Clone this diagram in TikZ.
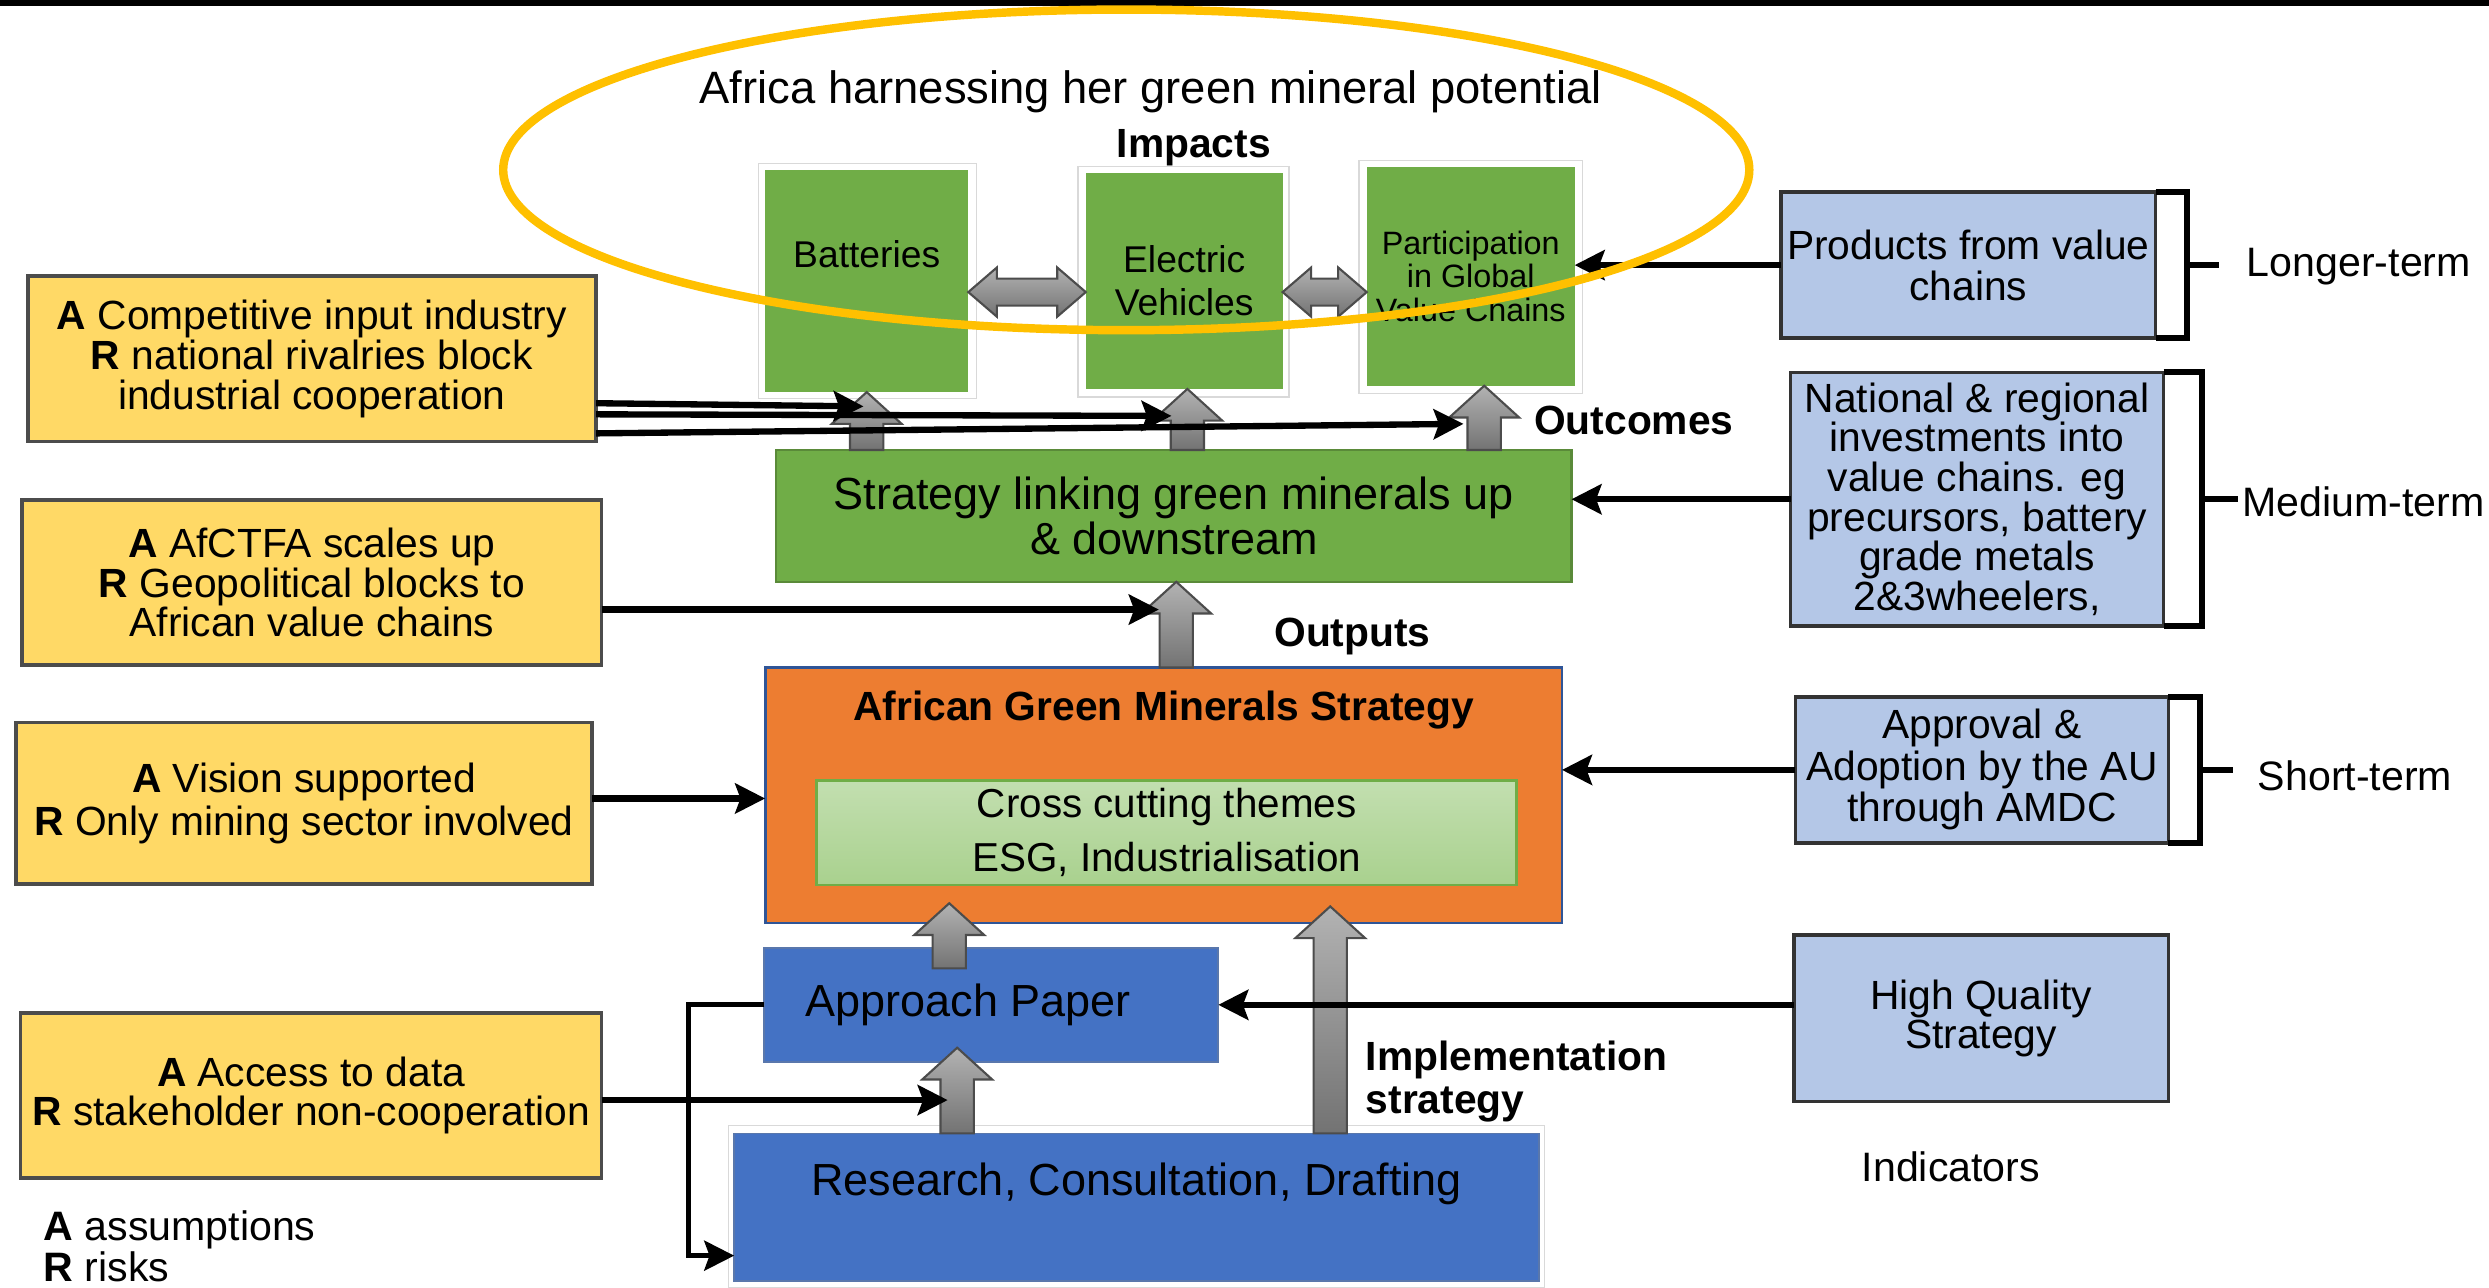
\documentclass[tikz,border=0pt]{standalone}
\usepackage{fontspec}
\setmainfont{Liberation Sans}
\usepackage{tikz}
\usetikzlibrary{arrows.meta}
\usetikzlibrary{calc}

\definecolor{impactgreen}{HTML}{70AD47}
\definecolor{riskyellow}{HTML}{FFD966}
\definecolor{indblue}{HTML}{B4C7E7}
\definecolor{agmsorange}{HTML}{ED7D31}
\definecolor{agmsedge}{HTML}{2F5597}
\definecolor{themegreen}{HTML}{A9D18E}
\definecolor{actblue}{HTML}{4472C4}
\definecolor{ringgold}{HTML}{FFC000}

\newcommand{\px}{0.15874mm}
\newcommand{\blockup}[2]{%
  \path[block_style] ($(#1)+(-10.5,0)$) -- ($(#2)+(-10.5,20)$) -- ($(#2)+(-22,20)$) -- (#2)
    -- ($(#2)+(22,20)$) -- ($(#2)+(10.5,20)$) -- ($(#1)+(10.5,0)$) -- cycle;}
\newcommand{\blocklr}[2]{%
  \path[block_style] (#1) -- ($(#1)+(18,-15.5)$) -- ($(#1)+(18,-8.5)$) -- ($(#2)+(-18,-8.5)$)
    -- ($(#2)+(-18,-15.5)$) -- (#2) -- ($(#2)+(-18,15.5)$) -- ($(#2)+(-18,8.5)$)
    -- ($(#1)+(18,8.5)$) -- ($(#1)+(18,15.5)$) -- cycle;}

\begin{document}
\begin{tikzpicture}[x=0.15874mm, y=-0.15874mm,
        box_size/.style 2 args={minimum width=#1*\px, minimum height=#2*\px},
        frame_style/.style={draw=black!15, fill=white, line width=0.4pt, inner sep=0pt},
        impact_style/.style={fill=impactgreen, inner sep=0pt, outer sep=0pt, align=center, font=\fontsize{10.6}{12.2}\selectfont},
        risk_style/.style={draw=black!70, fill=riskyellow, line width=1pt, align=center, inner sep=0pt, outer sep=0pt, font=\fontsize{11.6}{11.3}\selectfont},
        indicator_style/.style={draw=black!80, fill=indblue, line width=1pt, align=center, inner sep=0pt, outer sep=0pt, font=\fontsize{11.6}{11.3}\selectfont},
        activity_style/.style={fill=actblue, draw=agmsedge!80, line width=0.5pt, inner sep=0pt, outer sep=0pt, font=\fontsize{12.8}{13}\selectfont},
        edge_style/.style={draw=black, line width=1.8pt, -{Stealth[length=8.5pt,width=8.5pt,inset=1.5pt]}},
        bracket_style/.style={draw=black, line width=1.7pt},
        block_style/.style={draw=black!70, line width=0.6pt, top color=black!30, bottom color=black!55},
        tag_style/.style={font=\fontsize{11.6}{12.2}\selectfont\bfseries, inner sep=0pt},
        term_style/.style={font=\fontsize{11.7}{12}\selectfont, inner sep=0pt, anchor=west}]

        \fill[white] (0,0) rectangle (1568,811);
        \useasboundingbox (0,0) rectangle (1568,811);
        \fill[black] (0,0) rectangle (1568,3.5);

        \node [frame_style, box_size={137}{148}] (fr1) at (546.5,177) {};
        \node [frame_style, box_size={133}{145}] (fr2) at (745.5,177.5) {};
        \node [frame_style, box_size={141}{147}] (fr3) at (926.5,174.5) {};
        \node [frame_style, box_size={514}{102}] (fr4) at (716,760) {};

        \node [impact_style, box_size={128}{140}] (imp1) at (546,177) {\raisebox{5.4mm}{Batteries}};
        \node [impact_style, box_size={124}{136}] (imp2) at (746,177) {Electric\\Vehicles};
        \node [impact_style, box_size={131}{138}, font=\fontsize{9.2}{9.5}\selectfont] (imp3) at (926.5,174) {Participation\\in Global\\Value Chains};

        \node [impact_style, draw=impactgreen!80!black, line width=0.6pt, box_size={501}{83}, font=\fontsize{12.8}{12.6}\selectfont] (strat) at (739.5,325) {Strategy linking green minerals up\\\& downstream};

        \node [fill=agmsorange, draw=agmsedge, line width=0.8pt, box_size={502}{161}, inner sep=0pt, outer sep=0pt] (agms) at (733,501) {};
        \node [font=\fontsize{11.6}{12}\selectfont\bfseries] (agmsT) at (733,447) {African Green Minerals Strategy};
        \node [draw=impactgreen, line width=0.8pt, top color=themegreen!70!white, bottom color=themegreen, box_size={441}{66}, align=center, inner sep=0pt, font=\fontsize{11.5}{15.3}\selectfont] (theme) at (735,524.5) {Cross cutting themes\\ESG, Industrialisation};

        \node [activity_style, box_size={286}{72}] (ap) at (624.5,633) {Approach Paper\hspace*{4.6mm}};
        \node [activity_style, box_size={507}{93}] (rcd) at (716,760.5) {\raisebox{5.6mm}{Research, Consultation, Drafting}};

        \node [risk_style, box_size={358}{104}] (ra1) at (196.5,226) {\textbf{A} Competitive input industry\\\textbf{R} national rivalries block\\industrial cooperation};
        \node [risk_style, box_size={365}{104}] (ra2) at (196.5,367) {\textbf{A} AfCTFA scales up\\\textbf{R} Geopolitical blocks to\\African value chains};
        \node [risk_style, box_size={363}{102}, font=\fontsize{11.6}{12.2}\selectfont] (ra3) at (191.5,506) {\textbf{A} Vision supported\\\textbf{R} Only mining sector involved};
        \node [risk_style, box_size={366}{104}] (ra4) at (196,690) {\textbf{A} Access to data\\\textbf{R} stakeholder non-cooperation};

        \node [indicator_style, box_size={236}{92}, font=\fontsize{11.6}{11.7}\selectfont] (ind1) at (1240,167) {Products from value\\chains};
        \node [indicator_style, box_size={235}{160}] (ind2) at (1245.5,314.5) {National \& regional\\investments into\\value chains. eg\\precursors, battery\\grade metals\\2\&3wheelers,};
        \node [indicator_style, box_size={235}{92}, font=\fontsize{11.6}{10.8}\selectfont] (ind3) at (1248.5,485) {Approval \&\\Adoption by the AU\\through AMDC};
        \node [indicator_style, box_size={236}{105}] (ind4) at (1248,641.5) {High Quality\\Strategy};

        \node [font=\fontsize{12.9}{13}\selectfont] (goal) at (725,58) {Africa harnessing her green mineral potential};
        \node [tag_style] (impT) at (752,93) {Impacts};
        \node [tag_style, anchor=west] (outcT) at (966,265) {Outcomes};
        \node [tag_style] (outpT) at (852,401) {Outputs};
        \node [tag_style, anchor=west, align=left] (implT) at (860,681.5) {Implementation\\strategy};
        \node [term_style, anchor=center] (indT) at (1229,735) {Indicators};
        \node [term_style] (longT) at (1415,168) {Longer-term};
        \node [term_style] (medT) at (1412,316) {Medium-term};
        \node [term_style] (shortT) at (1422,489) {Short-term};
        \node [term_style] (keyA) at (27,775) {\textbf{A} assumptions};
        \node [term_style] (keyR) at (27,798) {\textbf{R} risks};

        \coordinate (tA) at (imp1.south);
        \coordinate (tB) at (imp2.south -| 748,0);
        \coordinate (tC) at (imp3.south -| 935,0);
        \coordinate (bA) at (strat.north -| tA);
        \coordinate (bB) at (strat.north -| tB);
        \coordinate (bC) at (strat.north -| tC);
        \coordinate (tO) at (strat.south -| 741,0);
        \coordinate (bO) at (agms.north -| tO);
        \coordinate (tP) at (598,569);
        \coordinate (bP) at (598,610);
        \coordinate (tQ) at (838,571);
        \coordinate (bQ) at (rcd.north -| tQ);
        \coordinate (tR) at (603,660);
        \coordinate (bR) at (rcd.north -| tR);
        \coordinate (dA1) at (imp1.east |- 0,184);
        \coordinate (dA2) at (imp2.west |- 0,184);
        \coordinate (dB1) at (imp2.east |- 0,184);
        \coordinate (dB2) at (imp3.west |- 0,184);

        \blocklr{dA1}{dA2}
        \blocklr{dB1}{dB2}
        \blockup{bA}{tA}
        \blockup{bB}{tB}
        \blockup{bC}{tC}
        \blockup{bO}{tO}
        \blockup{bP}{tP}
        \blockup{bQ}{tQ}
        \blockup{bR}{tR}

        \coordinate (inA) at (544,256);
        \coordinate (inB) at (738,262);
        \coordinate (inC) at (922,267);
        \coordinate (inO) at (730,384);
        \coordinate (inR) at (597,693);

        \draw [edge_style] (ra1.east |- 0,254) -- (inA);
        \draw [edge_style] (ra1.east |- 0,261) -- (inB);
        \draw [edge_style] (ra1.east |- 0,273) -- (inC);
        \draw [edge_style] (ra2.east |- inO) -- (inO);
        \draw [edge_style] (ra3.east |- 0,503) -- (agms.west |- 0,503);
        \draw [edge_style] (ra4.east |- inR) -- (inR);

        \draw [edge_style] (ind1.west) -- (imp3.east |- ind1.west);
        \draw [edge_style] (ind2.west) -- (strat.east |- ind2.west);
        \draw [edge_style] (ind3.west) -- (agms.east |- ind3.west);
        \draw [edge_style] (ind4.west |- ap.east) -- (ap.east);
        \draw [edge_style, line width=1.5pt] (ap.west) -- ++(-48,0) |- (rcd.west |- 0,791);

        \draw [bracket_style] (ind1.north east) -- ++(20,0) |- (ind1.south east) (ind1.east) ++(20,0) -- ++(20,0);
        \draw [bracket_style] (ind2.north east) -- ++(24,0) |- (ind2.south east) (ind2.east) ++(24,0) -- ++(23,0);
        \draw [bracket_style] (ind3.north east) -- ++(20,0) |- (ind3.south east) (ind3.east) ++(20,0) -- ++(21,0);

        \draw [ringgold, line width=2.4pt] (709.5,107) ellipse [x radius=392.5, y radius=101];

\end{tikzpicture}
\end{document}
